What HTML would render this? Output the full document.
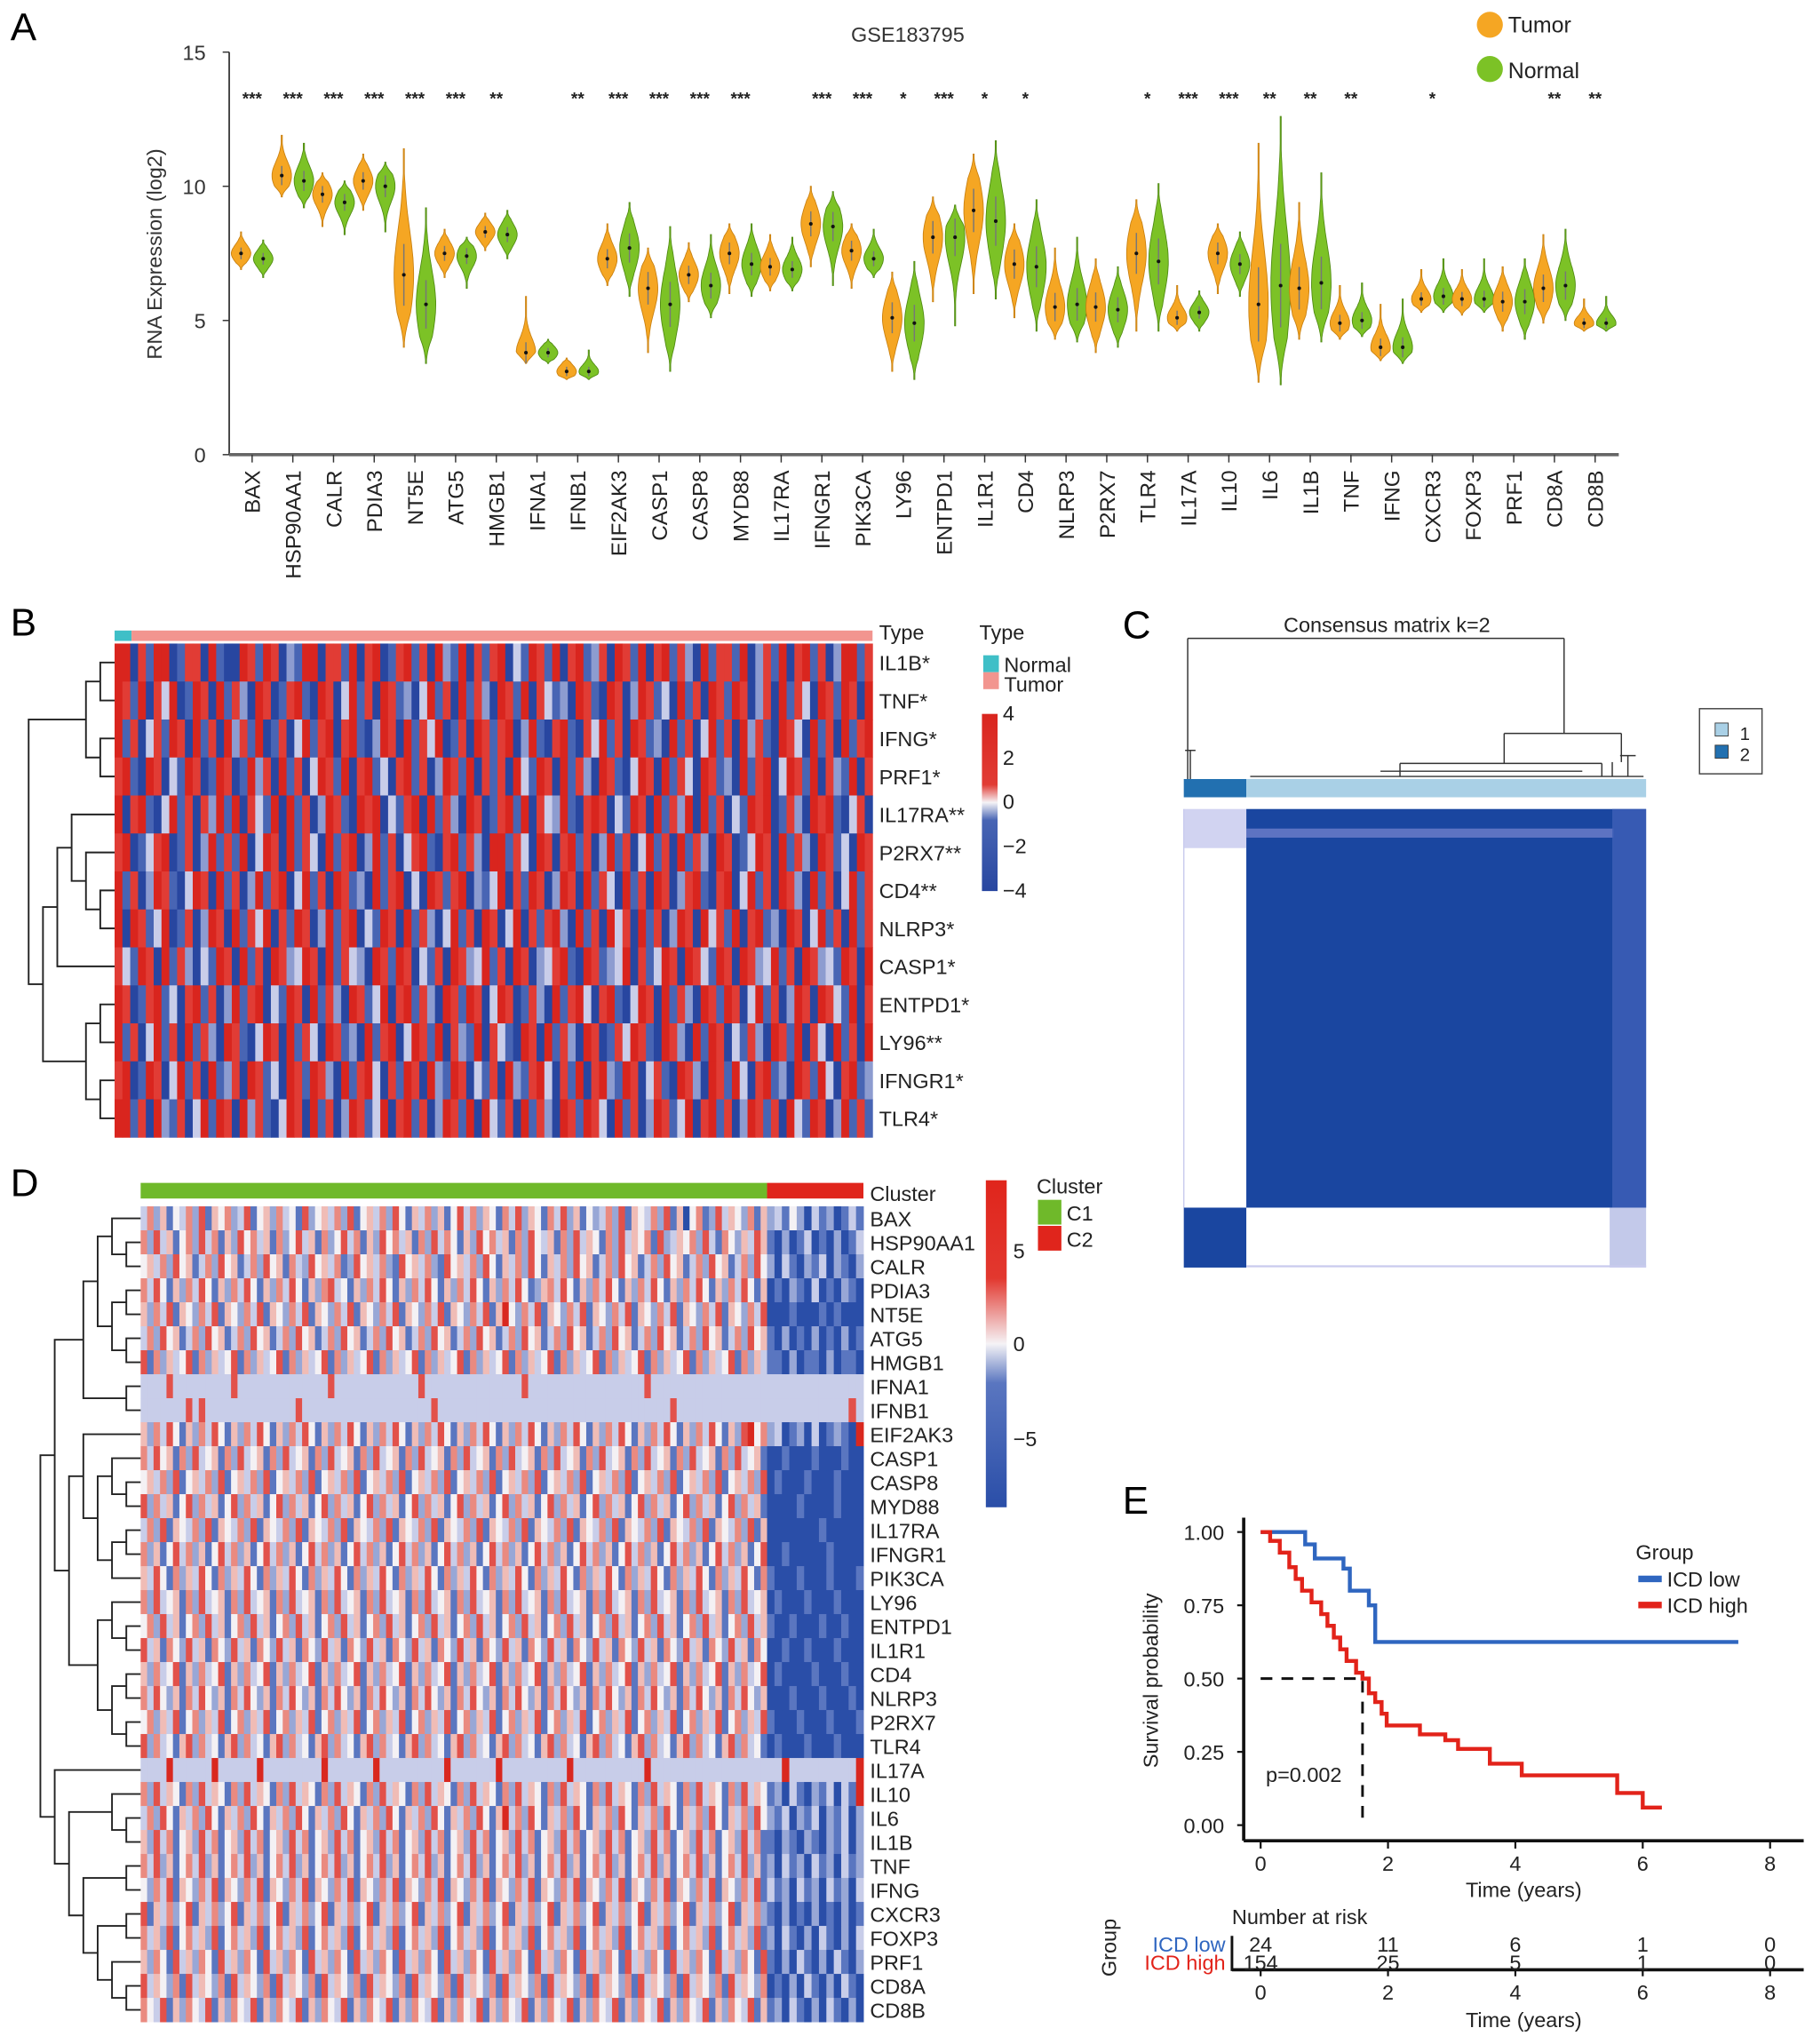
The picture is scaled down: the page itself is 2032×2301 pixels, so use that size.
<!DOCTYPE html>
<html><head><meta charset="utf-8">
<style>
html,body{margin:0;padding:0;background:#fff;}
svg{display:block;font-family:"Liberation Sans",Arial,sans-serif;}
</style></head>
<body>
<svg id="fig" width="2032" height="2301" viewBox="0 0 1386 1569" preserveAspectRatio="none" xmlns="http://www.w3.org/2000/svg">
<rect width="1386" height="1569" fill="#fff"/>
<g id="pA"></g>
<g id="pB"></g>
<g id="pC"></g>
<g id="pD"></g>
<g id="pE"></g>
</svg>
<script>
const NS="http://www.w3.org/2000/svg";
function mk(parent,tag,attrs,txt){const e=document.createElementNS(NS,tag);for(const k in attrs)e.setAttribute(k,attrs[k]);if(txt!==undefined)e.textContent=txt;parent.appendChild(e);return e;}

/* ---------- Panel A data ---------- */
const genesA=["BAX","HSP90AA1","CALR","PDIA3","NT5E","ATG5","HMGB1","IFNA1","IFNB1","EIF2AK3","CASP1","CASP8","MYD88","IL17RA","IFNGR1","PIK3CA","LY96","ENTPD1","IL1R1","CD4","NLRP3","P2RX7","TLR4","IL17A","IL10","IL6","IL1B","TNF","IFNG","CXCR3","FOXP3","PRF1","CD8A","CD8B"];
const tumorMed=[7.5,10.4,9.7,10.2,6.7,7.5,8.3,3.8,3.1,7.3,6.2,6.7,7.5,7.0,8.6,7.6,5.1,8.1,9.1,7.1,5.5,5.5,7.5,5.1,7.5,5.6,6.2,4.9,4.0,5.8,5.8,5.7,6.2,4.9];
const normalMed=[7.3,10.2,9.4,10.0,5.6,7.4,8.2,3.8,3.1,7.7,5.6,6.3,7.1,6.9,8.5,7.3,4.9,8.1,8.7,7.0,5.6,5.4,7.2,5.3,7.1,6.3,6.4,5.0,4.0,5.9,5.8,5.7,6.3,4.9];
const tumorMin=[6.9,9.6,8.5,9.1,4.0,6.6,7.6,3.4,2.8,6.3,3.8,5.7,6.0,6.1,7.0,6.2,3.1,5.7,6.0,5.1,4.3,3.8,4.6,4.6,6.0,2.7,4.3,4.3,3.5,5.3,5.2,4.6,4.9,4.6];
const tumorMax=[8.3,11.9,10.5,11.2,11.4,8.4,9.0,5.9,3.6,8.6,7.7,7.9,8.6,8.2,10.0,8.6,6.8,9.6,11.2,8.6,7.7,7.3,9.5,6.3,8.6,11.6,9.4,6.3,5.6,6.9,6.9,7.0,8.2,5.8];
const normalMin=[6.6,9.2,8.2,8.3,3.4,6.2,7.3,3.4,2.8,5.9,3.1,5.1,5.9,6.1,6.3,6.6,2.8,4.8,5.8,4.6,4.2,4.0,4.6,4.6,5.9,2.6,4.2,4.4,3.4,5.3,5.3,4.3,5.0,4.6];
const normalMax=[8.0,11.6,10.2,10.9,9.2,8.1,9.1,4.3,3.9,9.4,8.5,8.2,8.6,8.1,9.8,8.4,7.2,9.3,11.7,9.5,8.1,7.0,10.1,6.1,8.3,12.6,10.5,6.4,5.8,7.3,7.3,7.3,8.4,5.9];
const sigA=["***","***","***","***","***","***","**","","**","***","***","***","***","","***","***","*","***","*","*","","","*","***","***","**","**","**","","*","","","**","**"];
const yTicksA=[0,5,10,15];

(function(){
const g=document.getElementById('pA');
const x0=176,x1=1243,yb=349,yt=40;
const Y=v=>yb-(v/15)*(yb-yt);
const X=i=>193.6+i*31.25;
mk(g,'text',{x:8,y:31,'font-size':30,},'A');
mk(g,'text',{x:697,y:32,'font-size':16,'text-anchor':'middle','fill':'#333',},'GSE183795');
mk(g,'line',{x1:x0,y1:yt,x2:x0,y2:yb,stroke:'#333','stroke-width':1.2,});
mk(g,'line',{x1:x0,y1:yb,x2:x1,y2:yb,stroke:'#666','stroke-width':2.5,});
yTicksA.forEach(t=>{
 mk(g,'line',{x1:x0-5,y1:Y(t),x2:x0,y2:Y(t),stroke:'#333','stroke-width':1,});
 mk(g,'text',{x:x0-18,y:Y(t)+6,'font-size':16,'text-anchor':'end','fill':'#333',},t);
});
mk(g,'text',{transform:'translate(124,195) rotate(-90)','font-size':16,'text-anchor':'middle','fill':'#333',},'RNA Expression (log2)');
function violin(cx,med,mn,mx,fill,stroke,name){
 const n=40,s=Math.max((mx-mn)/4.5,0.25),hw=7.5;let L=[],R=[];
 for(let k=0;k<=n;k++){const v=mn+(mx-mn)*k/n;let w=hw*Math.exp(-0.5*Math.pow((v-med)/s,2));const edge=Math.min(k,n-k)/n;w=Math.max(w*Math.min(1,edge*6),0.4);L.push([cx-w,Y(v)]);R.push([cx+w,Y(v)]);}
 const pts=L.concat(R.reverse()).map(p=>p[0].toFixed(1)+','+p[1].toFixed(1)).join(' ');
 const p=mk(g,'polygon',{points:pts,fill:fill,stroke:stroke,'stroke-width':0.6});
 
 
 mk(g,'line',{x1:cx,y1:Y(med+s*0.7),x2:cx,y2:Y(med-s*0.7),stroke:'#777','stroke-width':1});
 mk(g,'circle',{cx:cx,cy:Y(med),r:1.4,fill:'#111'});
}
genesA.forEach((gn,i)=>{
 const cx=X(i);
 violin(cx-8.5,tumorMed[i],tumorMin[i],tumorMax[i],'#f5a623','#c98010','violin-tumor-'+gn.toLowerCase());
 violin(cx+8.5,normalMed[i],normalMin[i],normalMax[i],'#7cc226','#4f8a12','violin-normal-'+gn.toLowerCase());
 mk(g,'line',{x1:cx,y1:yb,x2:cx,y2:yb+6,stroke:'#333','stroke-width':1});
 const t=mk(g,'text',{transform:`translate(${cx+6},${yb+12}) rotate(-90)`,'font-size':16.5,'text-anchor':'end','fill':'#222'},gn);
 
 
 if(sigA[i]){const s=mk(g,'text',{x:cx,y:80,'font-size':13,'text-anchor':'middle','fill':'#222','font-weight':'bold'},sigA[i]);
 
 }
});
mk(g,'circle',{cx:1144,cy:19,r:10,fill:'#f5a623',});
mk(g,'text',{x:1158,y:25,'font-size':17,'fill':'#222',},'Tumor');
mk(g,'circle',{cx:1144,cy:53,r:10,fill:'#7cc226',});
mk(g,'text',{x:1158,y:60,'font-size':17,'fill':'#222',},'Normal');
})();

/* ---------- dendrogram helper ---------- */
function dendro(g,tree,leafY,xRight,step,stroke,sw){
 let maxD=0;
 function depth(t){return Array.isArray(t)?1+Math.max(depth(t[0]),depth(t[1])):0;}
 maxD=depth(tree);
 function rec(t){
  if(!Array.isArray(t))return {y:leafY(t),x:xRight,d:0};
  const a=rec(t[0]),b=rec(t[1]);const d=Math.max(a.d,b.d)+1;const x=xRight-d*step;
  mk(g,'path',{d:`M${a.x},${a.y}H${x}V${b.y}H${b.x}`,fill:'none',stroke:stroke,'stroke-width':sw});
  return {y:(a.y+b.y)/2,x:x,d:d};
 }
 rec(tree);
}

/* ---------- Panel B data ---------- */
const genesB=["IL1B*","TNF*","IFNG*","PRF1*","IL17RA**","P2RX7**","CD4**","NLRP3*","CASP1*","ENTPD1*","LY96**","IFNGR1*","TLR4*"];
const rowsB=[
"8807188017708100871870218807718078017817082180717803187180781270871807817208177180271807817028817",
"8718073801870817208701781087038170871203817081720871807312087108702871308170871870270817308718708",
"8170371870817082718017038178078102870817380170871780281078107381708712081703817082710873081708178",
"7810870318701870182708170387180781307817028718071708318708172087103870817308712081780387180721807",
"8078103817072818073180817028710878031780817208701781807328107870318708172808170318780172087810370",
"7801378017028171803870817308178028170378107817208817308707817028170381708172087013870817208713087",
"8170287103870817028178038170871208178030871780213807187028708173081708702781078038170872081703817",
"8087138017028708173807187028178031870817203817087038071782081708370817028708371807812087038170817",
"7318708172031870817087238708173208718703170872381708702378108712380713870873187087238170872318708",
"8701781307817028178031870817208713807817208718703870172081783078103870817208718703817028708731807",
"8170381708172087103870817308712081780387180721807310870817208701738710872081870317208718073081708",
"7801870381708127087130871872081783071870821870317082178307180782187037108720871830781208718307812",
"8817082170381870827103870817028713807817028718083170817208718730817028713807817028717083187028171"];
const colB=["#2846a0","#4865b4","#8d9cd0","#c9cde9","#f3f0f2","#efb6b1","#e9776f","#e13c35","#d9251e"];

(function(){
const g=document.getElementById('pB');
const hx0=88,hx1=670,hy0=494,hy1=873,nR=genesB.length,rh=(hy1-hy0)/nR;
mk(g,'text',{x:8,y:488,'font-size':30,},'B');
mk(g,'rect',{x:hx0,y:484,width:13,height:8,fill:'#3fbfc7',});
mk(g,'rect',{x:hx0+13,y:484,width:hx1-hx0-13,height:8,fill:'#f2958f',});
mk(g,'text',{x:675,y:491,'font-size':16,'fill':'#222',},'Type');
rowsB.forEach((row,r)=>{
 const n=row.length,cw=(hx1-hx0)/n;
 for(let c=0;c<n;c++){
  const cell=mk(g,'rect',{x:(hx0+c*cw).toFixed(2),y:(hy0+r*rh).toFixed(2),width:(cw+0.3).toFixed(2),height:(rh+0.3).toFixed(2),fill:colB[+row[c]]});
  
  
 }
 const t=mk(g,'text',{x:675,y:hy0+(r+0.5)*rh+6,'font-size':16,'fill':'#222'},genesB[r]);
 
 
});
dendro(g,[[[0,1],[2,3]],[[[4,[5,[6,7]]],8],[[9,10],[11,12]]]],i=>hy0+(i+0.5)*rh,hx0,11,'#222',1.3);
mk(g,'text',{x:752,y:491,'font-size':16,'fill':'#222',},'Type');
mk(g,'rect',{x:755,y:503,width:12,height:13,fill:'#3fbfc7',});
mk(g,'rect',{x:755,y:516,width:12,height:13,fill:'#f2958f',});
mk(g,'text',{x:771,y:516,'font-size':16,'fill':'#222',},'Normal');
mk(g,'text',{x:771,y:531,'font-size':16,'fill':'#222',},'Tumor');
const defs=mk(document.getElementById('fig'),'defs',{});
const lg=mk(defs,'linearGradient',{id:'gB',x1:0,y1:0,x2:0,y2:1});
mk(lg,'stop',{offset:'0','stop-color':'#d9251e'});mk(lg,'stop',{offset:'0.4','stop-color':'#e13c35'});
mk(lg,'stop',{offset:'0.5','stop-color':'#f5f3f6'});mk(lg,'stop',{offset:'0.6','stop-color':'#4865b4'});mk(lg,'stop',{offset:'1','stop-color':'#2846a0'});
mk(g,'rect',{x:754,y:548,width:12,height:136,fill:'url(#gB)',});
[["4",553],["2",587],["0",621],["\u22122",655],["\u22124",689]].forEach(a=>{const t=mk(g,'text',{x:770,y:a[1],'font-size':16,'fill':'#222'},a[0]);});
})();

/* ---------- Panel C ---------- */
(function(){
const g=document.getElementById('pC');
mk(g,'text',{x:862,y:490,'font-size':30,},'C');
mk(g,'text',{x:1065,y:485,'font-size':16,'text-anchor':'middle','fill':'#222',},'Consensus matrix k=2');
const dg=mk(g,'g',{fill:'none',stroke:'#333','stroke-width':1,});
[[912,598,912,490],[912,490,1201,490],[1201,490,1201,563],[1155,563,1245,563],[1155,563,1155,586],[1245,563,1245,585],
[1075,586,1230,586],[1075,586,1075,596],[1230,586,1230,596],[1060,592,1215,592],[1238,585,1238,596],[1250,580,1250,596],[1244,580,1256,580],[960,596,1262,596],[914,576,914,598],[910,576,918,576]].forEach(l=>mk(dg,'line',{x1:l[0],y1:l[1],x2:l[2],y2:l[3]}));
mk(g,'rect',{x:909,y:598,width:48,height:14,fill:'#2270b0',});
mk(g,'rect',{x:957,y:598,width:307,height:14,fill:'#a9d0e6',});
mk(g,'rect',{x:957,y:621,width:307,height:306,fill:'#1a46a0',});
mk(g,'rect',{x:909,y:927,width:48,height:46,fill:'#1a46a0',});
mk(g,'rect',{x:909,y:621,width:48,height:30,fill:'#c9cbee','opacity':0.85,});
mk(g,'rect',{x:957,y:636,width:282,height:7,fill:'#7a86d0','opacity':0.7});
mk(g,'rect',{x:1238,y:621,width:26,height:306,fill:'#3e5fb8','opacity':0.8});
mk(g,'rect',{x:1236,y:927,width:28,height:46,fill:'#b9bfe6','opacity':0.85});
mk(g,'line',{x1:909,y1:621,x2:909,y2:927,stroke:'#c9cbee','stroke-width':1});
mk(g,'line',{x1:957,y1:972,x2:1264,y2:972,stroke:'#c9cbee','stroke-width':1.5});
mk(g,'rect',{x:1305,y:544,width:48,height:50,fill:'#fff',stroke:'#444','stroke-width':1,});
mk(g,'rect',{x:1317,y:555,width:10,height:10,fill:'#a9d0e6',stroke:'#333','stroke-width':0.6});
mk(g,'rect',{x:1317,y:572,width:10,height:10,fill:'#2270b0',stroke:'#333','stroke-width':0.6});
mk(g,'text',{x:1336,y:568,'font-size':14,'fill':'#222',},'1');
mk(g,'text',{x:1336,y:584,'font-size':14,'fill':'#222',},'2');
})();

/* ---------- Panel D data ---------- */
const genesD=["BAX","HSP90AA1","CALR","PDIA3","NT5E","ATG5","HMGB1","IFNA1","IFNB1","EIF2AK3","CASP1","CASP8","MYD88","IL17RA","IFNGR1","PIK3CA","LY96","ENTPD1","IL1R1","CD4","NLRP3","P2RX7","TLR4","IL17A","IL10","IL6","IL1B","TNF","IFNG","CXCR3","FOXP3","PRF1","CD8A","CD8B"];
const rowsD=[
"3625143627154623714526341724536271453627415362514736254163725416372514236271543627150461273542615|2314203120131",
"6273514627361527463516247351624736152746351627364152746351627435162735416273546172354627316425375|1020130102013",
"4536274513627451362745163274536127453621745362174536274153627415362745136274513627451362745136274|2031021302102",
"6374152637415263741526374152673415263741526374152637415263741256374152637415263741526374152637415|0102103010210",
"5263715426371542637154263715426371542637154263715426371584263715426371542637154263715426371542637|0001000101000",
"3627451362745136274513627451362745136274513627451362745136274513627451362745136274513627451362745|1020102010201",
"7162534716253471625347162534716253471625347162534716253471625347162534716253471625347162534716253|1102011020110",
"3333733333333373333333333333373333333333333733333333333333373333333333333333337333333333333333333|3333333333333",
"3333333737333333333333337333333333333333333337333333333333333333333333333333333333733333333333333|3333333333373",
"5263741526374152637415263741526374152637415263741526374152637415263741526374152637415263741527846|2301203012108",
"6374516273451627345162734516273451627345162734516273451627345162734516273451627345162734516273451|0010001000100",
"4536271453627145362714536271453627145362714536271453627145362714536271453627145362714536271453627|0100010001000",
"7263514726351472635147263514726351472635147263514726351472635147263514726351472635147263514726351|0000100001000",
"3627154362715436271543627154362715436271543627154362715436271543627154362715436271543627154362715|0000000100000",
"6251473625147362514736251473625147362514736251473625147362514736251473625147362514736251473625147|0010000010000",
"5374162537416253741625374162537416253741625374162537416253741625374162537416253741625374162537416|1000100010001",
"6273451627345162734516273451627345162734516273451627345162734516273451627345162734516273451627345|0100010001000",
"4627351462735146273514627351462735146273514627351462735146273514627351462735146273514627351462735|1001000100100",
"7351642735164273516427351642735164273516427351642735164273516427351642735164273516427351642735164|0010010001000",
"5263471526347152634715263471526347152634715263471526347152634715263471526347152634715263471526347|0100001000100",
"6374251637425163742516374251637425163742516374251637425163742516374251637425163742516374251637425|0001000100010",
"4625371462537146253714625371462537146253714625371462537146253714625371462537146253714625371462537|1000100010001",
"7263415726341572634157263415726341572634157263415726341572634157263415726341572634157263415726341|0100010001000",
"3333833333383333338333333333833333338333333333383333333833333333338333333333338333333333333333333|3383333333338",
"6273541627354162735416273541627354162735416273541627354162735416273541627354162735416273541627354|1203102130318",
"3627415362741536274153627415362741536274153627415362741583627415362741536274153627415362741536274|2130213021302",
"5273614527361452736145273614527361452736145273614527361452736145273614527361452736145273614527361|1021021021302",
"6372514637251463725146372514637251463725146372514637251463725146372514637251463725146372514637251|2031203120312",
"4263715426371542637154263715426371542637154263715426371542637154263715426371542637154263715426371|3120312031203",
"7153624715362471536247153624715362471536247153624715362471536247153624715362471536247153624715362|1020102010201",
"6352714635271463527146352714635271463527146352714635271463527146352714635271463527146352714635271|2031020310203",
"5264173526417352641735264173526417352641735264173526417352641735264173526417352641735264173526417|1020310203102",
"7354261735426173542617354261735426173542617354261735426173542617354261735426173542617354261735426|0102031020310",
"6437152643715264371526437152643715264371526437152643715264371526437152643715264371526437152643715|1203102031020"];
const colD=["#2a4ea8","#5a76c0","#98a7d6","#c8cde9","#f4f1f4","#f0bcb6","#ea8a80","#e2514a","#d9281f"];

(function(){
const g=document.getElementById('pD');
const hx0=108,hx1=663,hy0=926,hy1=1552,split=589,nR=genesD.length,rh=(hy1-hy0)/nR;
mk(g,'text',{x:8,y:918,'font-size':30,},'D');
mk(g,'rect',{x:hx0,y:908,width:split-hx0,height:12,fill:'#6fb92a',});
mk(g,'rect',{x:split,y:908,width:hx1-split,height:12,fill:'#e0251c',});
mk(g,'text',{x:668,y:922,'font-size':16,'fill':'#222',},'Cluster');
rowsD.forEach((row,r)=>{
 const parts=row.split('|');const a=parts[0],b=parts[1];
 const cwA=(split-hx0)/a.length,cwB=(hx1-split)/b.length;
 const y=(hy0+r*rh).toFixed(2),h=(rh+0.3).toFixed(2);
 for(let c=0;c<a.length;c++){const cell=mk(g,'rect',{x:(hx0+c*cwA).toFixed(2),y:y,width:(cwA+0.3).toFixed(2),height:h,fill:colD[+a[c]]});
  
  }
 for(let c=0;c<b.length;c++){const cell=mk(g,'rect',{x:(split+c*cwB).toFixed(2),y:y,width:(cwB+0.3).toFixed(2),height:h,fill:colD[+b[c]]});
  
  }
 const t=mk(g,'text',{x:668,y:hy0+(r+0.5)*rh+6,'font-size':16,'fill':'#222'},genesD[r]);
 
 
});
const tree=[[[[[0,[1,2]],[[3,4],[5,6]]],[7,8]],[[9,[[10,[11,12]],[[13,14],15]]],[[16,[17,18]],[[19,20],[21,22]]]]],[23,[[24,[25,26]],[[27,28],[[29,30],[31,[32,33]]]]]]];
dendro(g,tree,i=>hy0+(i+0.5)*rh,hx0,11,'#222',1.3);
const defs=document.querySelector('defs');
const lg=mk(defs,'linearGradient',{id:'gD',x1:0,y1:0,x2:0,y2:1});
mk(lg,'stop',{offset:'0','stop-color':'#e0251c'});mk(lg,'stop',{offset:'0.3','stop-color':'#e2382f'});
mk(lg,'stop',{offset:'0.5','stop-color':'#f5f3f6'});mk(lg,'stop',{offset:'0.62','stop-color':'#5a76c0'});mk(lg,'stop',{offset:'1','stop-color':'#2a4ea8'});
mk(g,'rect',{x:757,y:906,width:16,height:251,fill:'url(#gD)',});
[["5",966],["0",1037],["\u22125",1110]].forEach(a=>{const t=mk(g,'text',{x:778,y:a[1],'font-size':16,'fill':'#222'},a[0]);});
mk(g,'text',{x:796,y:916,'font-size':16,'fill':'#222',},'Cluster');
mk(g,'rect',{x:797,y:921,width:18,height:19,fill:'#6fb92a',});
mk(g,'rect',{x:797,y:941,width:18,height:19,fill:'#e0251c',});
mk(g,'text',{x:819,y:937,'font-size':16,'fill':'#222',},'C1');
mk(g,'text',{x:819,y:957,'font-size':16,'fill':'#222',},'C2');
})();

/* ---------- Panel E data ---------- */
const lowTimes=[0,0.7,0.85,1.3,1.4,1.7,1.8,7.5];
const lowSurv=[1.0,0.958,0.91,0.875,0.80,0.75,0.625,0.625];
const highTimes=[0,0.15,0.3,0.45,0.55,0.65,0.8,0.95,1.05,1.15,1.25,1.35,1.5,1.6,1.7,1.8,1.9,1.98,2.5,2.9,3.1,3.6,4.1,5.6,6.0,6.3];
const highSurv=[1.0,0.97,0.93,0.88,0.84,0.80,0.76,0.72,0.68,0.64,0.60,0.56,0.52,0.50,0.45,0.42,0.38,0.34,0.31,0.29,0.26,0.21,0.17,0.11,0.06,0.06];
const xTicksE=[0,2,4,6,8];
const yTicksE=[0,0.25,0.5,0.75,1.0];
const riskLow=[24,11,6,1,0];
const riskHigh=[154,25,5,1,0];

(function(){
const g=document.getElementById('pE');
const X=t=>968+t*48.9, Y=p=>1401-p*225;
mk(g,'text',{x:862,y:1162,'font-size':30,},'E');
mk(g,'line',{x1:955,y1:1165,x2:955,y2:1413,stroke:'#111','stroke-width':2.5,});
mk(g,'line',{x1:955,y1:1413,x2:1385,y2:1413,stroke:'#111','stroke-width':2.5,});
yTicksE.forEach(t=>{mk(g,'line',{x1:950,y1:Y(t),x2:955,y2:Y(t),stroke:'#111','stroke-width':1.5});
 const l=mk(g,'text',{x:940,y:Y(t)+6,'font-size':16,'text-anchor':'end','fill':'#222'},t.toFixed(2));
 
 });
xTicksE.forEach(t=>{mk(g,'line',{x1:X(t),y1:1413,x2:X(t),y2:1419,stroke:'#111','stroke-width':1.5});
 const l=mk(g,'text',{x:X(t),y:1436,'font-size':16,'text-anchor':'middle','fill':'#222'},t);
 
 });
mk(g,'text',{x:1170,y:1456,'font-size':16,'text-anchor':'middle','fill':'#222',},'Time (years)');
mk(g,'text',{transform:'translate(889,1290) rotate(-90)','font-size':16,'text-anchor':'middle','fill':'#222',},'Survival probability');
function step(ts,ss){let d=`M${X(ts[0])},${Y(ss[0])}`;for(let i=1;i<ts.length;i++){d+=`H${X(ts[i]).toFixed(1)}V${Y(ss[i]).toFixed(1)}`;}return d;}
mk(g,'path',{d:`M${X(0)},${Y(0.5)}H${X(1.6)}V${Y(0)}`,fill:'none',stroke:'#111','stroke-width':2,'stroke-dasharray':'9,7',});
const pl=mk(g,'path',{d:step(lowTimes,lowSurv),fill:'none',stroke:'#2f66c0','stroke-width':3});


const ph=mk(g,'path',{d:step(highTimes,highSurv),fill:'none',stroke:'#e2231a','stroke-width':3});


mk(g,'text',{x:972,y:1368,'font-size':16,'fill':'#222',},'p=0.002');
mk(g,'text',{x:1256,y:1197,'font-size':16,'fill':'#222',},'Group');
mk(g,'line',{x1:1258,y1:1212,x2:1276,y2:1212,stroke:'#2f66c0','stroke-width':5,});
mk(g,'text',{x:1280,y:1218,'font-size':16,'fill':'#222',},'ICD low');
mk(g,'line',{x1:1258,y1:1232,x2:1276,y2:1232,stroke:'#e2231a','stroke-width':5,});
mk(g,'text',{x:1280,y:1238,'font-size':16,'fill':'#222',},'ICD high');
// risk table
mk(g,'text',{x:946,y:1477,'font-size':16,'fill':'#222',},'Number at risk');
mk(g,'text',{transform:'translate(857,1495) rotate(-90)','font-size':16,'text-anchor':'middle','fill':'#222',},'Group');
mk(g,'text',{x:941,y:1498,'font-size':16,'text-anchor':'end','fill':'#2f66c0',},'ICD low');
mk(g,'text',{x:941,y:1512,'font-size':16,'text-anchor':'end','fill':'#e2231a',},'ICD high');
mk(g,'line',{x1:946,y1:1486,x2:946,y2:1513,stroke:'#111','stroke-width':2});
mk(g,'line',{x1:946,y1:1512,x2:1385,y2:1512,stroke:'#111','stroke-width':2.5,});
xTicksE.forEach((t,i)=>{
 const a=mk(g,'text',{x:X(t),y:1498,'font-size':16,'text-anchor':'middle','fill':'#222'},riskLow[i]);
 
 
 const b=mk(g,'text',{x:X(t),y:1512,'font-size':16,'text-anchor':'middle','fill':'#222'},riskHigh[i]);
 
 
 mk(g,'line',{x1:X(t),y1:1512,x2:X(t),y2:1517,stroke:'#111','stroke-width':1.5});
 const c=mk(g,'text',{x:X(t),y:1535,'font-size':16,'text-anchor':'middle','fill':'#222'},t);
 
 
});
mk(g,'text',{x:1170,y:1556,'font-size':16,'text-anchor':'middle','fill':'#222',},'Time (years)');
})();
</script>
</body></html>
